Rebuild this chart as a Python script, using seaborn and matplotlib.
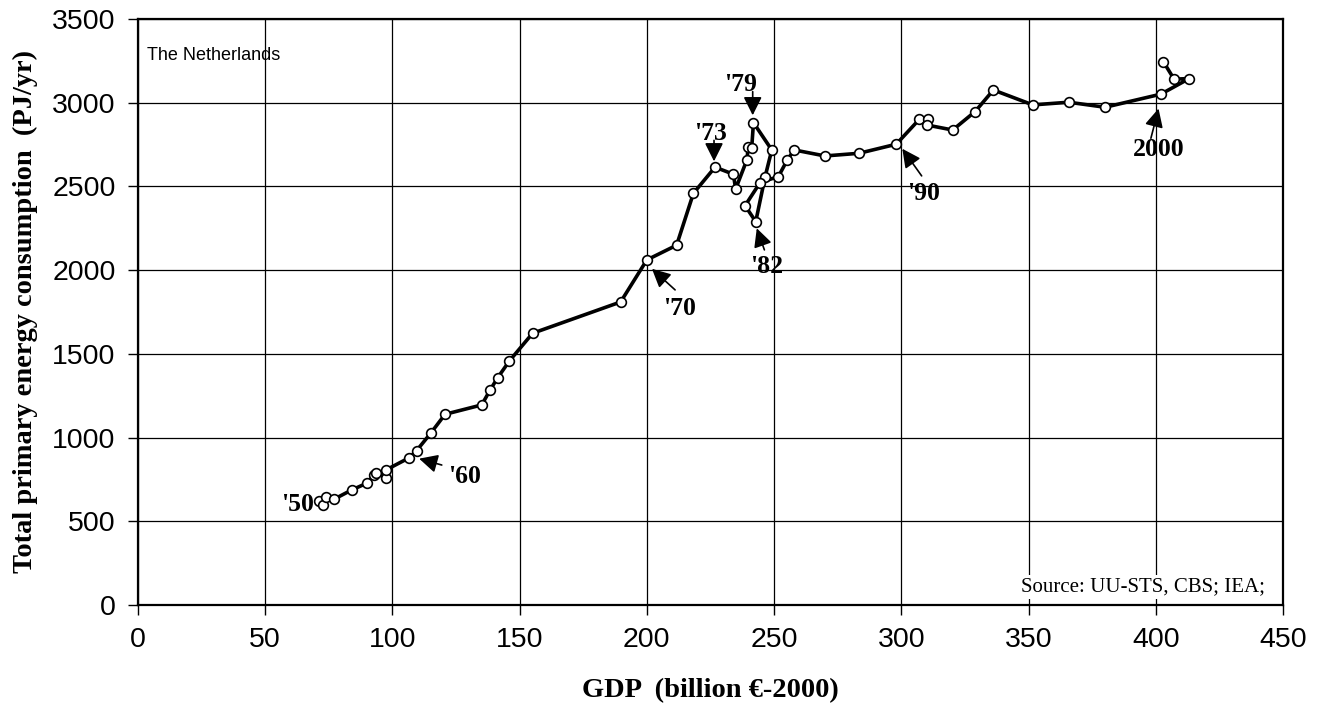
import matplotlib
matplotlib.use("Agg")
import matplotlib.pyplot as plt
import seaborn as sns
import pandas as pd

# Netherlands, 1950-2003: GDP (billion euro-2000) vs total primary energy (PJ/yr)
years = list(range(1950, 2004))
gdp = [71.3, 72.8, 73.9, 77.2, 84.0, 89.9, 92.8, 93.5, 97.4, 97.4,
       106.7, 109.5, 115.0, 120.7, 135.1, 138.4, 141.4, 146.0, 155.1, 189.7,
       200.0, 211.7, 218.3, 226.8, 234.0, 234.9, 239.3, 239.9, 241.2, 241.9,
       249.1, 246.5, 242.8, 238.6, 244.5, 251.7, 255.2, 257.9, 270.0, 283.4,
       298.0, 307.1, 310.4, 310.0, 320.2, 329.0, 336.2, 351.7, 365.8, 380.1,
       402.0, 413.1, 407.2, 403.0]
energy = [623, 597, 643, 633, 687, 727, 777, 790, 760, 806,
          880, 922, 1025, 1139, 1195, 1284, 1358, 1458, 1623, 1810,
          2061, 2149, 2459, 2615, 2573, 2485, 2658, 2738, 2728, 2881,
          2718, 2559, 2290, 2385, 2523, 2559, 2658, 2718, 2682, 2698,
          2752, 2901, 2901, 2867, 2837, 2947, 3076, 2987, 3003, 2973,
          3051, 3144, 3141, 3245]

# year labels: (text, text position, arrow tail, arrow tip)
notes = [
    ("'50", (62.5, 600), None, None),
    ("'60", (128.5, 765), (119.4, 836), (110.5, 874)),
    ("'70", (213.0, 1772), (211.1, 1882), (202.0, 2008)),
    ("'73", (225.2, 2814), (226.4, 2775), (226.4, 2650)),
    ("'79", (236.6, 3106), (241.6, 3066), (241.6, 2925)),
    ("'82", (247.1, 2021), (246.2, 2121), (243.2, 2250)),
    ("'90", (308.7, 2459), (308.0, 2563), (300.4, 2725)),
    ("2000", (401.3, 2718), (398.1, 2788), (401.1, 2965)),
]

df = pd.DataFrame({"year": years, "gdp": gdp, "energy": energy})

sns.set_style("ticks")
plt.rcParams["font.family"] = ["Liberation Sans", "DejaVu Sans"]
plt.rcParams.update({"text.color": "black", "axes.labelcolor": "black",
                     "xtick.color": "black", "ytick.color": "black"})

fig = plt.figure(figsize=(13.24, 7.12), dpi=100)
ax = fig.add_axes([0.1042, 0.1503, 0.8648, 0.8230])

sns.lineplot(data=df, x="gdp", y="energy", sort=False, estimator=None,
             color="black", linewidth=2.6, marker="o", markersize=7,
             markerfacecolor="white", markeredgecolor="black",
             markeredgewidth=1.2, ax=ax, zorder=3)

ax.set_xlim(0, 450)
ax.set_ylim(0, 3500)
ax.set_xticks(range(0, 451, 50))
ax.set_yticks(range(0, 3501, 500))
ax.grid(True, color="black", linewidth=0.9)
ax.set_axisbelow(True)
for s in ax.spines.values():
    s.set_visible(True)
    s.set_color("black")
    s.set_linewidth(1.6)
ax.tick_params(axis="both", labelsize=20.5, length=7, width=1, pad=9,
               color="black", labelcolor="black")

serif_b = dict(family=["Liberation Serif", "DejaVu Serif"], weight="bold")
ax.set_xlabel("GDP  (billion €-2000)", fontsize=20.5, color="black", **serif_b)
ax.set_ylabel("Total primary energy consumption  (PJ/yr)", fontsize=20.5,
              color="black", **serif_b)
ax.xaxis.set_label_coords(0.5, -0.124)
ax.yaxis.set_label_coords(-0.087, 0.5)

for label, txt, tail, tip in notes:
    ax.text(txt[0], txt[1], label, ha="center", va="center", fontsize=18.5,
            color="black", zorder=5, **serif_b)
    if tip is not None:
        ax.annotate("", xy=tip, xytext=tail,
                    arrowprops=dict(arrowstyle="-|>", color="black", lw=1.2,
                                    mutation_scale=28, shrinkA=0, shrinkB=0),
                    zorder=5)

ax.text(3.5, 3285, "The Netherlands", ha="left", va="center", fontsize=13,
        color="black")
ax.text(443, 107, "Source: UU-STS, CBS; IEA;", ha="right", va="center",
        fontsize=15, color="black", family=["Liberation Serif", "DejaVu Serif"],
        bbox=dict(facecolor="white", edgecolor="none", pad=2), zorder=4)

fig.savefig("out.png", dpi=100)
